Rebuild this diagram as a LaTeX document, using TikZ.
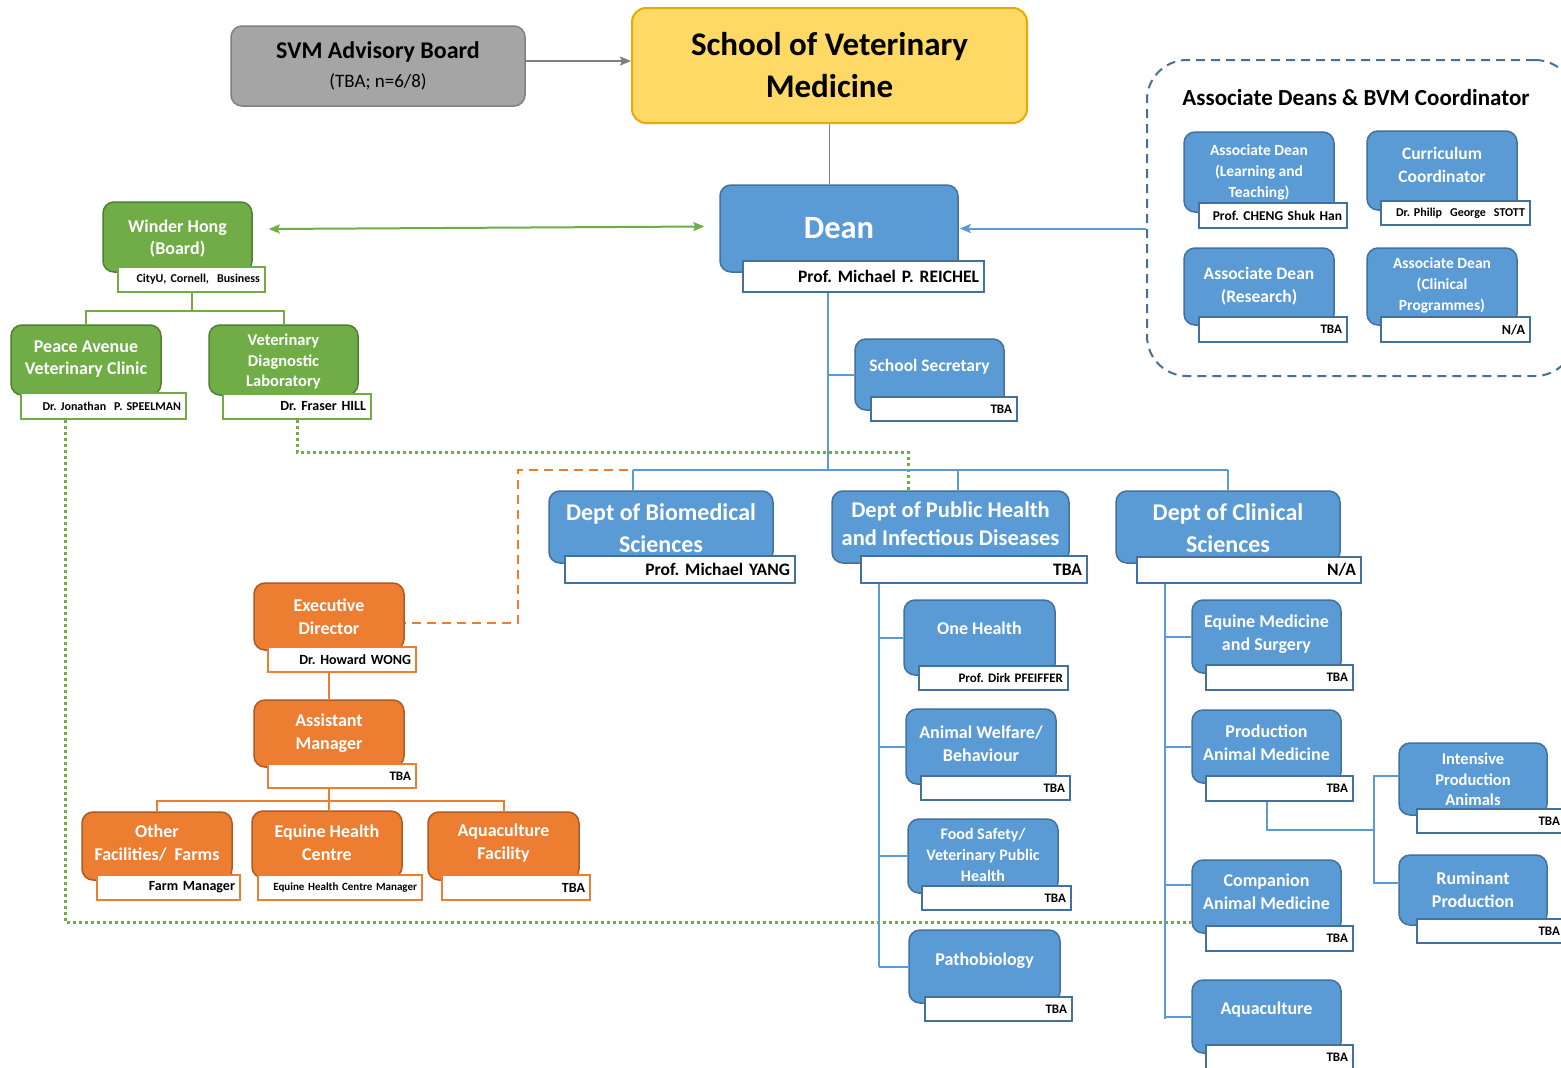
\documentclass[tikz,border=0pt]{standalone}
\usepackage{fontspec}
\setmainfont{Carlito}
\usetikzlibrary{arrows.meta,backgrounds}
\frenchspacing

\definecolor{bfill}{HTML}{5B9BD5}
\definecolor{bdark}{HTML}{41719C}
\definecolor{gfill}{HTML}{70AD47}
\definecolor{gdark}{HTML}{507E32}
\definecolor{ofill}{HTML}{ED7D31}
\definecolor{odark}{HTML}{AE5A21}
\definecolor{greyfill}{HTML}{A5A5A5}
\definecolor{greydark}{HTML}{7F7F7F}
\definecolor{yfill}{HTML}{FFD966}
\definecolor{ydark}{HTML}{E8A900}
\definecolor{frame}{HTML}{46709C}

\begin{document}
\begin{tikzpicture}[x=1pt, y=-1pt,
    bbx/.style={draw=bdark, fill=bfill, line width=1.5pt, rounded corners=11pt, inner sep=0pt},
    gbx/.style={bbx, draw=gdark, fill=gfill},
    obx/.style={bbx, draw=odark, fill=ofill},
    bnm/.style={draw=bdark, fill=white, line width=1.5pt, inner xsep=5pt, inner ysep=0pt, align=right, font=\bfseries\fontsize{13}{15}\selectfont},
    gnm/.style={bnm, draw=gfill},
    onm/.style={bnm, draw=ofill},
    wt/.style 2 args={text=white, align=center, inner sep=0pt, font=\bfseries\fontsize{#1}{#2}\selectfont},
    bline/.style={draw=bfill, line width=2pt},
    gline/.style={draw=gfill, line width=2pt},
    oline/.style={draw=ofill, line width=2pt},
    gdot/.style={draw=gfill, line width=3pt, dash pattern=on 3pt off 3pt},
    odash/.style={draw=ofill, line width=2.5pt, dash pattern=on 9pt off 6pt},
    tip/.style={-{Stealth[length=11pt, width=9pt, inset=2pt]}}
]
\useasboundingbox (0,0) rectangle (1561,1068);

% Haut
\node[draw=greydark, fill=greyfill, line width=1.5pt, rounded corners=11pt, minimum width=294pt, minimum height=80pt, align=center, font=\fontsize{19}{29}\selectfont] (svm) at (378,66) {{\bfseries\fontsize{24}{29}\selectfont SVM Advisory Board}\\(TBA; n=6/8)};
\node[draw=ydark, fill=yfill, line width=2pt, rounded corners=14pt, minimum width=395pt, minimum height=115pt, align=center, font=\bfseries\fontsize{33}{42}\selectfont] (svmed) at (829.5,65.5) {School of Veterinary\\Medicine};
\node[bbx, minimum width=238pt, minimum height=87pt, text=white, font=\bfseries\fontsize{32.5}{36}\selectfont] (dean) at (839,228.5) {Dean};
\node[bnm, text width=231pt, minimum height=31pt, font=\bfseries\fontsize{17.5}{19}\selectfont] (deanp) at (863.5,276.5) {Prof. Michael P. REICHEL};

% Winder Hong
\node[gbx, minimum width=149pt, minimum height=70pt] (wh) at (177.5,237) {};
\node[gnm, text width=137pt, minimum height=25pt, font=\bfseries\fontsize{12}{14}\selectfont] (whp) at (191.5,279.5) {CityU, Cornell,\ \ Business};
\node[wt={18}{22}] (whT) at (177.5,239) {Winder Hong\\(Board)};
\node[gbx, minimum width=150pt, minimum height=70pt] (peace) at (86,360) {};
\node[gnm, text width=155pt, minimum height=26pt, font=\bfseries\fontsize{12}{14}\selectfont] (peacep) at (103.5,406) {Dr. Jonathan\ \ P. SPEELMAN};
\node[wt={18}{22}] (peaceT) at (86,359) {Peace Avenue\\Veterinary Clinic};
\node[gbx, minimum width=149pt, minimum height=70pt] (vdl) at (283.5,360) {};
\node[gnm, text width=138pt, minimum height=25pt, font=\bfseries\fontsize{14}{16}\selectfont] (vdlp) at (297,406.5) {Dr. Fraser HILL};
\node[wt={16.5}{20.5}] (vdlT) at (283.5,362) {Veterinary\\Diagnostic\\Laboratory};

% Associate Deans
\node[draw=frame, line width=2pt, dash pattern=on 9pt off 6pt, rounded corners=40pt, minimum width=428pt, minimum height=316pt] (adc) at (1361,218) {};
\node[font=\bfseries\fontsize{23}{26}\selectfont] (adcT) at (1356,98) {Associate Deans \& BVM Coordinator};
\node[bbx, minimum width=150pt, minimum height=80pt] (adlt) at (1259,172) {};
\node[bnm, text width=138pt, minimum height=25pt, font=\bfseries\fontsize{13.5}{15}\selectfont] (adltp) at (1273,215.5) {Prof. CHENG Shuk\ Han};
\node[wt={15.5}{21}] (adltT) at (1259,172) {Associate Dean\\(Learning and\\Teaching)};
\node[bbx, minimum width=150pt, minimum height=79pt] (cur) at (1442,170.5) {};
\node[bnm, text width=139pt, minimum height=24pt, font=\bfseries\fontsize{12}{14}\selectfont] (curp) at (1455.5,213) {Dr. Philip\ \ George\ \ STOTT};
\node[wt={17.5}{23}] (curT) at (1442,164.5) {Curriculum\\Coordinator};
\node[bbx, minimum width=150pt, minimum height=77pt] (adr) at (1259,286.5) {};
\node[bnm, text width=138pt, minimum height=25pt] (adrp) at (1273,329.5) {TBA};
\node[wt={17.5}{23}] (adrT) at (1259,286.5) {Associate Dean\\(Research)};
\node[bbx, minimum width=150pt, minimum height=77pt] (adcp) at (1442,286.5) {};
\node[bnm, text width=139pt, minimum height=25pt, font=\bfseries\fontsize{14}{16}\selectfont] (adcpp) at (1455.5,329.5) {N/A};
\node[wt={15.5}{21}] (adcpT) at (1442,285) {Associate Dean\\(Clinical\\Programmes)};

% Secretariat
\node[bbx, minimum width=149pt, minimum height=71pt] (sec) at (929.5,374.5) {};
\node[bnm, text width=136pt, minimum height=24pt] (secp) at (944,409) {TBA};
\node[wt={17.5}{22}] (secT) at (929.5,367) {School Secretary};

% Departements
\node[bbx, minimum width=224pt, minimum height=72pt] (bio) at (661,527) {};
\node[bnm, text width=220pt, minimum height=27pt, font=\bfseries\fontsize{17.5}{19}\selectfont] (biop) at (680,569.5) {Prof. Michael YANG};
\node[wt={24}{32}] (bioT) at (661,528) {Dept of Biomedical\\Sciences};
\node[bbx, minimum width=237pt, minimum height=72pt] (ph) at (950.5,527) {};
\node[bnm, text width=216pt, minimum height=27pt, font=\bfseries\fontsize{17.5}{19}\selectfont] (php) at (974,569.5) {TBA};
\node[wt={22.5}{28}] (phT) at (950.5,524) {Dept of Public Health\\and Infectious Diseases};
\node[bbx, minimum width=224pt, minimum height=72pt] (cs) at (1228,527) {};
\node[bnm, text width=214pt, minimum height=26pt, font=\bfseries\fontsize{17.5}{19}\selectfont] (csp) at (1249,570) {N/A};
\node[wt={24}{32}] (csT) at (1228,528) {Dept of Clinical\\Sciences};

% Public Health
\node[bbx, minimum width=151pt, minimum height=75pt] (oh) at (979.5,637.5) {};
\node[bnm, text width=139pt, minimum height=24pt] (ohp) at (993.5,678) {Prof. Dirk PFEIFFER};
\node[wt={18}{23}] (ohT) at (979.5,628) {One Health};
\node[bbx, minimum width=150pt, minimum height=75pt] (aw) at (981,746.5) {};
\node[bnm, text width=139pt, minimum height=24pt] (awp) at (995.5,788) {TBA};
\node[wt={18}{23}] (awT) at (981,743.5) {Animal Welfare/\\Behaviour};
\node[bbx, minimum width=150pt, minimum height=74pt] (fs) at (983,856) {};
\node[bnm, text width=139pt, minimum height=24pt] (fsp) at (996.5,898) {TBA};
\node[wt={16}{21}] (fsT) at (983,855) {Food Safety/\\Veterinary Public\\Health};
\node[bbx, minimum width=151pt, minimum height=73pt] (pb) at (984.5,966.5) {};
\node[bnm, text width=137pt, minimum height=24pt] (pbp) at (998.5,1009) {TBA};
\node[wt={18}{23}] (pbT) at (984.5,961) {Pathobiology};

% Clinical Sciences
\node[bbx, minimum width=149pt, minimum height=73pt] (ems) at (1266.5,636.5) {};
\node[bnm, text width=137pt, minimum height=25pt] (emsp) at (1279.5,677.5) {TBA};
\node[wt={18}{23}] (emsT) at (1266.5,634.5) {Equine Medicine\\and Surgery};
\node[bbx, minimum width=149pt, minimum height=73pt] (pam) at (1266.5,746.5) {};
\node[bnm, text width=137pt, minimum height=25pt] (pamp) at (1279.5,788.5) {TBA};
\node[wt={18}{23}] (pamT) at (1266.5,743) {Production\\Animal Medicine};
\node[bbx, minimum width=149pt, minimum height=73pt] (cam) at (1266.5,896.5) {};
\node[bnm, text width=137pt, minimum height=25pt] (camp) at (1279.5,938.5) {TBA};
\node[wt={18}{23}] (camT) at (1266.5,891.5) {Companion\\Animal Medicine};
\node[bbx, minimum width=149pt, minimum height=73pt] (aq) at (1266.5,1016.5) {};
\node[bnm, text width=137pt, minimum height=25pt] (aqp) at (1279.5,1057.5) {TBA};
\node[wt={18}{23}] (aqT) at (1266.5,1010) {Aquaculture};
\node[bbx, minimum width=148pt, minimum height=72pt] (ipa) at (1473,779) {};
\node[bnm, text width=138pt, minimum height=24pt] (ipap) at (1491,821) {TBA};
\node[wt={16.5}{20.5}] (ipaT) at (1473,779.5) {Intensive\\Production\\Animals};
\node[bbx, minimum width=148pt, minimum height=70pt] (rp) at (1473,890) {};
\node[bnm, text width=138pt, minimum height=24pt] (rpp) at (1491,931) {TBA};
\node[wt={18}{23}] (rpT) at (1473,889.5) {Ruminant\\Production};

% Installations
\node[obx, minimum width=150pt, minimum height=67pt] (ed) at (329,616.5) {};
\node[onm, text width=138pt, minimum height=25pt, font=\bfseries\fontsize{14}{16}\selectfont] (edp) at (342,659.5) {Dr. Howard WONG};
\node[wt={18}{23}] (edT) at (329,616.5) {Executive\\Director};
\node[obx, minimum width=150pt, minimum height=67pt] (am) at (329,733.5) {};
\node[onm, text width=138pt, minimum height=24pt] (amp) at (342,776) {TBA};
\node[wt={18}{23}] (amT) at (329,733.5) {Assistant\\Manager};
\node[obx, minimum width=150pt, minimum height=68pt] (of) at (157,846) {};
\node[onm, text width=133pt, minimum height=25pt, font=\bfseries\fontsize{14}{16}\selectfont] (ofp) at (168.5,887.5) {Farm Manager};
\node[wt={18}{23}] (ofT) at (157,843.5) {Other\\Facilities/\ \ Farms};
\node[obx, minimum width=150pt, minimum height=67pt] (ehc) at (327,844.5) {};
\node[onm, text width=154pt, minimum height=25pt, font=\bfseries\fontsize{11}{13}\selectfont] (ehcp) at (340,887.5) {Equine Health Centre Manager};
\node[wt={18}{23}] (ehcT) at (327,842.5) {Equine Health\\Centre};
\node[obx, minimum width=151pt, minimum height=68pt] (aqf) at (503.5,846) {};
\node[onm, text width=138pt, minimum height=25pt, font=\bfseries\fontsize{14}{16}\selectfont] (aqfp) at (516,887.5) {TBA};
\node[wt={18}{23}] (aqfT) at (503.5,843.5) {Aquaculture\\Facility};

% Liens
\begin{scope}[on background layer]
\fill[white] (0,0) rectangle (1561,1068);
\draw[draw=greydark, line width=1.8pt, tip] ([yshift=5pt]svm.east) -- ([yshift=5pt]svm.east -| svmed.west);
\draw[draw=greydark, line width=1.8pt] (svmed.south) -- (svmed.south |- dean.north);
\draw[gline, {Stealth[length=11pt, width=9pt, inset=2pt]}-{Stealth[length=11pt, width=9pt, inset=2pt]}] ([shift={(16pt,8pt)}]wh.east) -- ([shift={(-15pt,2pt)}]dean.west);
\draw[bline, tip] (adc.west |- dean.east) -- ([xshift=1pt]dean.east);

\draw[gline] (whp.south) -- ++(0,18) -| (peace.north);
\draw[gline] (whp.south) ++(0,18) -| (vdl.north);

\coordinate (vdot) at (908,452);
\draw[gdot] (vdlp.south) |- (vdot) -- (vdot |- ph.north);
\coordinate (pdot) at (65,922);
\draw[gdot] (pdot |- peacep.south) -- (pdot) -- (pdot -| cam.west);

\coordinate (bus) at (828,470);
\coordinate (busL) at (633,470);
\coordinate (busM) at (958,470);
\coordinate (busR) at (1228,470);
\draw[bline] (bus |- deanp.south) -- (bus);
\draw[bline] (bus |- sec.west) -- (sec.west);
\draw[bline] (busL) -- (busR);
\draw[bline] (busL) -- (busL |- bio.north);
\draw[bline] (busM) -- (busM |- ph.north);
\draw[bline] (busR) -- (cs.north);

\coordinate (oturn) at (518,623);
\draw[odash] ([xshift=-5pt]busL) -| (oturn) -- (oturn -| ed.east);

\coordinate (phv) at (879,967);
\draw[bline] (phv |- php.south) -- (phv);
\foreach \n in {oh,aw,fs,pb}
  \draw[bline] (phv |- \n.west) -- (\n.west);

\coordinate (csv) at (1165,1019);
\draw[bline] (csv |- csp.south) -- (csv);
\foreach \n in {ems,pam,aq}
  \draw[bline] (csv |- \n.west) -- (\n.west);
\draw[bline] (csv |- cam.west) ++(0,-12) -- ([yshift=12pt]cam.west);

\coordinate (pj) at (1374,830);
\draw[bline] (pam.south |- pamp.south) -- (pam.south |- pj) -- (pj);
\draw[bline] ([yshift=3pt]ipa.west) -| (pj) |- ([yshift=7pt]rp.west);

\draw[oline] (edp.south -| ed.south) -- (am.north);
\draw[oline] (amp.south -| am.south) -- ++(0,12) coordinate (oj);
\draw[oline] (of.north) |- (oj) -| (aqf.north);
\draw[oline] (oj) -- (oj |- ehc.north);
\end{scope}
\end{tikzpicture}
\end{document}
